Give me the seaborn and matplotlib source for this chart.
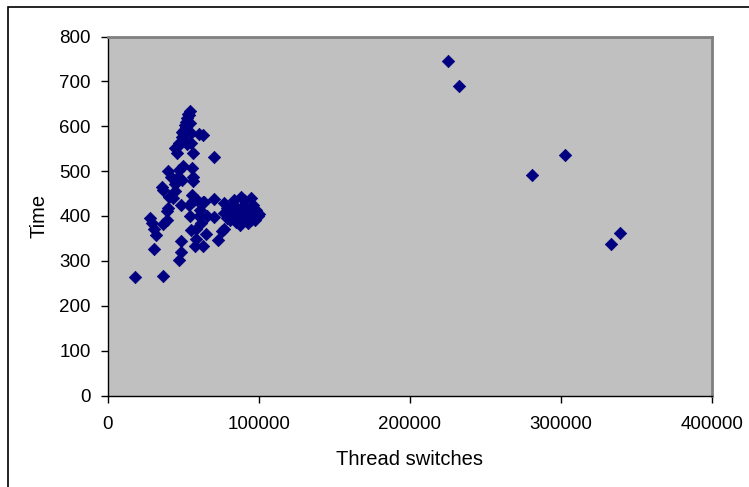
import matplotlib
matplotlib.use("Agg")
import matplotlib.pyplot as plt
import seaborn as sns
import pandas as pd
from matplotlib.patches import Rectangle

# Thread switches vs. run time for each measured run
thread_switches = [
    225280, 232870, 280890, 302700, 333340, 339030,
    18330, 36650, 30650, 47080, 48340, 48340,
    28120, 29390, 30650, 32230, 36970, 39490, 39180, 39810,
    36650, 36340, 39810, 41700, 40440, 43290, 44870, 44870,
    45810, 47080, 48660, 48980, 50240, 54030, 54350, 55300,
    58460, 58780, 58140, 62880, 65410, 73300, 75520, 77410,
    55930, 56560, 56250, 55610, 56560, 59090, 61300, 62880,
    63830, 60350, 61930, 66050, 70460, 70790, 70460, 56560,
    60350, 63510,
    54670, 53710, 52760, 52130, 51180, 50550, 49920, 48980,
    50550, 47400, 46450, 44870, 45810, 54670, 55300, 52760,
    55300, 53500, 51800, 50900, 49500,
    77410, 79000, 80570, 83730, 82150, 85310, 86890, 87840,
    90050, 91630, 93210, 94790, 93210, 96370, 97950, 99530,
    97320, 88470, 85310, 90050, 82150, 77410, 79000, 94790,
    91630, 84000, 88000, 92000, 96000, 100000, 81000, 86000,
    89000, 95000, 98500, 83000, 87000,
]
run_time = [
    745, 690, 491, 535, 337, 363,
    265, 267, 327, 303, 320, 345,
    396, 384, 372, 357, 382, 391, 412, 417,
    458, 465, 501, 488, 443, 439, 456, 471,
    484, 503, 425, 480, 512, 424, 401, 369,
    370, 348, 333, 334, 361, 346, 366, 370,
    506, 488, 477, 447, 434, 436, 413, 431,
    432, 399, 384, 399, 438, 397, 531, 540,
    583, 581,
    633, 625, 618, 610, 603, 592, 584, 577,
    569, 562, 555, 551, 540, 607, 584, 560,
    562, 628, 598, 572, 588,
    428, 417, 398, 436, 406, 413, 395, 380,
    436, 421, 406, 439, 384, 425, 413, 399,
    391, 443, 387, 391, 421, 406, 395, 395,
    402, 425, 410, 398, 415, 405, 392, 410,
    420, 390, 402, 400, 405,
]

df = pd.DataFrame({"Thread switches": thread_switches, "Time": run_time})

sns.set_theme(style="white")
plt.rcParams["font.family"] = ["Liberation Sans", "DejaVu Sans"]

fig = plt.figure(figsize=(7.49, 4.87), dpi=100)
ax = fig.add_axes([107.5 / 749, 1 - 395.5 / 487, (712 - 107.5) / 749, (395.5 - 36.5) / 487])
ax.set_facecolor("#C0C0C0")

sns.scatterplot(data=df, x="Thread switches", y="Time", ax=ax, marker="D",
                s=40, color="#000080", edgecolor="#000080", linewidth=0.5,
                legend=False, zorder=3)

ax.set_xlim(0, 400000)
ax.set_ylim(0, 800)
ax.set_xticks([0, 100000, 200000, 300000, 400000])
ax.set_yticks(range(0, 801, 100))
ax.tick_params(axis="both", which="both", direction="out", length=5, width=1,
               color="black", labelsize=13.5, labelcolor="black",
               bottom=True, left=True)
ax.tick_params(axis="x", pad=10)
ax.tick_params(axis="y", pad=7)
ax.set_xlabel("Thread switches", fontsize=14.5, color="black", labelpad=12)
ax.set_ylabel("Time", fontsize=14.5, color="black", labelpad=8)

for side in ("left", "bottom"):
    ax.spines[side].set_color("black")
    ax.spines[side].set_linewidth(1)
for side in ("top", "right"):
    ax.spines[side].set_color("#808080")
    ax.spines[side].set_linewidth(2)
ax.grid(False)

# outer chart frame
fig.patches.append(Rectangle((7.5 / 749, -0.1), 1.2, (487 - 6.5) / 487 + 0.1,
                             transform=fig.transFigure, fill=False,
                             edgecolor="black", linewidth=1.2))

fig.savefig("out.png", dpi=100, facecolor="white")
